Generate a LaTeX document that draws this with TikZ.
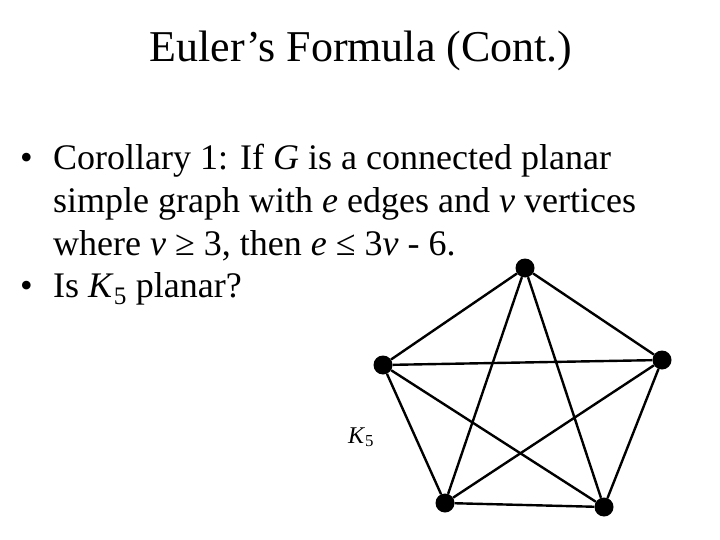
\documentclass[tikz,border=0pt]{standalone}
\usepackage{fontspec}
\setmainfont{Liberation Serif}
\begin{document}
\begin{tikzpicture}[x=1pt,y=-1pt,
  vtx/.style={circle,fill=black,inner sep=0pt,minimum size=19pt},
  edge/.style={line width=2.4pt},
  body/.style={anchor=base west,inner sep=0pt,font=\fontsize{36}{40}\selectfont}]
\useasboundingbox (0,0) rectangle (720,540);
\node[anchor=base,inner sep=0pt,font=\fontsize{44}{50}\selectfont] (title) at (361,62) {Euler’s Formula (Cont.)};
\node[body] (b1) at (20,170) {•};
\node[body] (l1) at (53,170) {Corollary 1: If \textit{G} is a connected planar};
\node[body] (l2) at (53,212) {simple graph with \textit{e} edges and \textit{v} vertices};
\node[body] (l3) at (53,255) {where \textit{v} ≥ 3, then \textit{e} ≤ 3\textit{v} - 6.};
\node[body] (b2) at (20,297) {•};
\node[body] (l4) at (53,297) {Is \textit{K}\textsubscript{5} planar?};
\node[vtx] (t) at (525,268) {};
\node[vtx] (l) at (383,365) {};
\node[vtx] (r) at (662,360) {};
\node[vtx] (bl) at (445,503) {};
\node[vtx] (br) at (604,507) {};
\foreach \a/\b in {t/l,t/r,t/bl,t/br,l/r,l/bl,l/br,r/bl,r/br,bl/br} \draw[edge] (\a) -- (\b);
\node[anchor=base west,inner sep=0pt,font=\fontsize{24}{28}\selectfont] (k5) at (348,443) {\textit{K}\textsubscript{5}};
\end{tikzpicture}
\end{document}
